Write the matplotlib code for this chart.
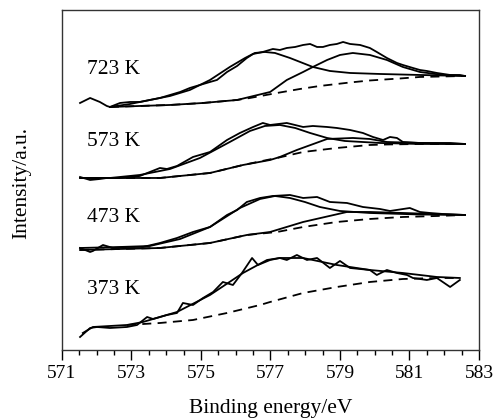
import matplotlib
matplotlib.use('Agg')
import matplotlib.pyplot as plt
from matplotlib.ticker import MultipleLocator

plt.rcParams['font.family'] = ['Liberation Serif', 'DejaVu Serif']

# ---- 723 K ----
e723_raw = [571.52, 571.81, 572.09, 572.29, 572.38, 572.67, 572.96, 573.24, 573.53, 573.82,
            574.11, 574.40, 574.68, 574.97, 575.26, 575.46, 575.75, 576.04, 576.32, 576.50,
            576.78, 577.07, 577.27, 577.47, 577.71, 577.94, 578.14, 578.34, 578.51, 578.71,
            578.91, 579.09, 579.29, 579.58, 579.86, 580.06, 580.35, 580.64, 580.81, 581.10,
            581.30, 581.50, 581.79, 582.17, 582.45, 582.60]
i723_raw = [247, 252, 248, 244, 243, 247, 248, 248, 250, 252,
            255, 258, 262, 265, 268, 270, 278, 284, 292, 296,
            298, 301, 300, 302, 303, 305, 306, 303, 303, 305,
            306, 308, 306, 305, 302, 298, 292, 287, 285, 282,
            280, 279, 277, 275, 275, 274]
e723_p1 = [572.38, 572.96, 573.53, 574.11, 574.68, 575.26, 575.83, 576.27, 576.55, 576.84,
           577.13, 577.56, 578.22, 578.71, 579.29, 580.15, 581.30, 582.60]
i723_p1 = [243, 246, 250, 254, 260, 270, 283, 292, 297, 298,
           297, 292, 283, 279, 277, 276, 275, 274]
e723_p2 = [572.38, 573.24, 574.11, 575.06, 576.04, 576.99, 577.47, 577.94, 578.22, 578.63,
           579.00, 579.37, 579.86, 580.35, 580.81, 581.30, 581.96, 582.60]
i723_p2 = [243, 244, 245, 247, 250, 258, 270, 278, 283, 290,
           295, 297, 295, 290, 283, 278, 275, 274]
e723_bg = [572.38, 573.24, 574.11, 575.06, 576.04, 576.41, 577.19, 577.85, 578.42, 579.29,
           579.86, 580.73, 581.30, 582.60]
i723_bg = [243, 244, 245, 247, 250, 252, 257, 261, 264, 267.5,
           269.5, 271.5, 273, 274]

# ---- 573 K ----
e573_raw = [571.52, 571.81, 572.09, 572.29, 572.67, 572.96, 573.24, 573.53, 573.82, 574.02,
            574.31, 574.77, 575.26, 575.75, 576.12, 576.50, 576.78, 576.99, 577.47, 577.94,
            578.22, 578.63, 578.91, 579.29, 579.66, 579.95, 580.24, 580.44, 580.64, 580.81,
            581.30, 581.79, 582.17, 582.60]
i573_raw = [173, 170, 171, 172, 172, 173, 174, 178, 182, 181,
            184, 193, 198, 210, 217, 223, 227, 225, 227, 223,
            224, 223, 222, 220, 217, 213, 210, 213, 212, 208,
            207, 207, 207, 206]
e573_p1 = [571.52, 572.38, 573.24, 574.11, 574.97, 575.83, 576.41, 576.84, 577.27, 577.71,
           578.14, 578.63, 579.14, 580.15, 581.30, 582.60]
i573_p1 = [172, 172, 175, 181, 192, 208, 219, 224, 225, 222,
           217, 212, 209, 207, 206, 206]
e573_p2 = [571.52, 573.82, 575.26, 576.21, 576.99, 577.27, 577.76, 578.63, 579.37, 579.86,
           580.35, 581.30, 582.60]
i573_p2 = [172, 172, 177, 185, 190, 193, 200, 211, 212, 211,
           208, 207, 206]
e573_bg = [571.52, 573.82, 575.26, 576.21, 576.90, 577.19, 577.94, 578.91, 579.86, 580.35,
           581.30, 582.60]
i573_bg = [172, 172, 177, 185, 190, 192, 198, 202, 205, 205.5,
           206, 206]

# ---- 473 K ----
e473_raw = [571.52, 571.81, 571.89, 572.18, 572.47, 572.87, 573.33, 573.82, 574.31, 574.77,
            575.26, 575.75, 576.04, 576.32, 576.70, 577.07, 577.56, 577.94, 578.34, 578.71,
            579.20, 579.66, 580.15, 580.44, 581.01, 581.30, 581.59, 581.96, 582.60]
i473_raw = [102, 98, 99, 105, 102, 103, 103, 107, 112, 118,
            123, 135, 140, 148, 152, 154, 155, 152, 153, 148,
            147, 143, 141, 139, 142, 138, 137, 136, 135]
e473_p1 = [571.52, 572.67, 573.53, 574.40, 575.26, 576.12, 576.70, 577.13, 577.56, 577.99,
           578.42, 579.00, 579.86, 581.30, 582.60]
i473_p1 = [102, 103, 104, 111, 123, 142, 151, 154, 152, 148,
           143, 139, 137, 135.5, 135]
e473_p2 = [571.52, 573.82, 575.26, 576.32, 576.99, 577.94, 579.20, 579.86, 580.81, 582.60]
i473_p2 = [100, 102, 107, 115, 118, 128, 138, 138, 137, 135]
e473_bg = [571.52, 573.82, 575.26, 576.32, 577.19, 577.94, 578.91, 579.86, 580.81, 581.79,
           582.60]
i473_bg = [100, 102, 107, 115, 118, 123, 128, 131, 133, 134, 135]

# ---- 373 K ----
e373_raw = [571.52, 571.81, 572.01, 572.38, 572.87, 573.16, 573.45, 573.62, 574.02, 574.31,
            574.48, 574.77, 575.06, 575.35, 575.63, 575.92, 576.18, 576.47, 576.64, 576.99,
            577.27, 577.47, 577.76, 578.05, 578.34, 578.71, 579.00, 579.29, 579.58, 579.86,
            580.06, 580.35, 580.64, 580.93, 581.10, 581.50, 581.79, 582.17, 582.45]
i373_raw = [13, 22, 23, 22, 23, 25, 33, 31, 35, 37,
            47, 45, 52, 58, 68, 65, 77, 92, 85, 90,
            92, 90, 95, 90, 92, 82, 89, 82, 81, 80,
            75, 80, 77, 75, 72, 70, 72, 63, 70]
e373_fit = [571.60, 571.89, 572.87, 573.33, 574.31, 575.26, 576.21, 576.90, 577.27, 577.94,
            578.91, 579.86, 580.81, 581.79, 582.45]
i373_fit = [17, 23, 25, 28, 38, 55, 77, 90, 92, 92,
            85, 80, 77, 73, 72]
e373_bg = [572.87, 573.82, 574.77, 575.75, 576.70, 576.99, 577.94, 578.91, 579.86, 580.81,
           581.79, 582.45]
i373_bg = [25, 27, 30, 37, 45, 48, 57, 63, 68, 71, 72, 72]

temps = ['723 K', '573 K', '473 K', '373 K']
label_y = [280, 208, 132, 60]
label_x = 571.72
xticks = [571, 573, 575, 577, 579, 581, 583]

fig = plt.figure(figsize=(4.97, 4.19), dpi=100)
ax = fig.add_axes([0.1247, 0.1647, 0.8390, 0.8115])

solid = dict(color='black', lw=1.3)
dashed = dict(color='black', lw=1.3, ls=(0, (5, 3.5)))

for e, i in [(e723_raw, i723_raw), (e573_raw, i573_raw), (e473_raw, i473_raw), (e373_raw, i373_raw)]:
    ax.plot(e, i, **solid)
for e, i in [(e723_p1, i723_p1), (e723_p2, i723_p2), (e573_p1, i573_p1), (e573_p2, i573_p2),
             (e473_p1, i473_p1), (e473_p2, i473_p2), (e373_fit, i373_fit)]:
    ax.plot(e, i, **solid)
for e, i in [(e723_bg, i723_bg), (e573_bg, i573_bg), (e473_bg, i473_bg), (e373_bg, i373_bg)]:
    ax.plot(e, i, **dashed)

for t, y in zip(temps, label_y):
    ax.text(label_x, y, t, fontsize=15.5, va='center', ha='left')

ax.set_xlim(571, 583)
ax.set_ylim(0, 340)
ax.set_xticks(xticks)
ax.set_xticklabels([str(t) for t in xticks])
ax.xaxis.set_minor_locator(MultipleLocator(0.5))
ax.tick_params(axis='x', which='major', direction='out', length=7, width=1, labelsize=14, pad=4)
ax.tick_params(axis='x', which='minor', direction='out', length=3.5, width=1)
ax.set_yticks([])
for s in ax.spines.values():
    s.set_color('#333333')
    s.set_linewidth(1)

ax.set_xlabel('Binding energy/eV', fontsize=15.5, labelpad=12)
ax.set_ylabel('Intensity/a.u.', fontsize=15.5)
ax.yaxis.set_label_coords(-0.075, 0.49)

fig.savefig('out.png', dpi=100)
